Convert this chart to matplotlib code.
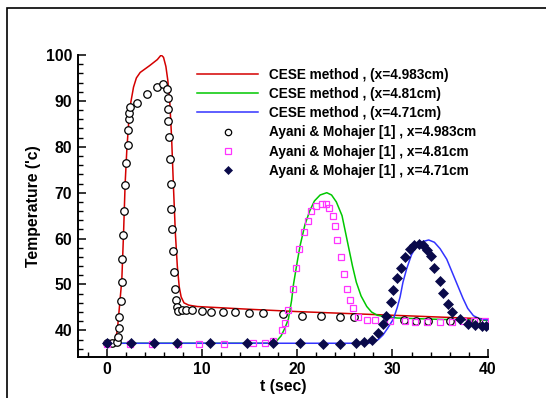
import matplotlib
matplotlib.use("Agg")
import matplotlib.pyplot as plt
from matplotlib.ticker import MultipleLocator
from matplotlib.patches import Rectangle

# ---- data ----
red_t = [0, 0.6, 0.9, 1.1, 1.25, 1.4, 1.57, 1.75, 1.92, 2.1, 2.3, 2.5, 2.8, 3.1, 3.5, 4.5,
         5.3, 5.7, 5.95, 6.2, 6.4, 6.6, 6.8, 7.0, 7.2, 7.4, 7.6, 7.8, 8.1, 8.6, 9.5,
         15, 20, 25, 30, 35, 40]
red_T = [37.2, 37.3, 38.0, 40.0, 43.5, 47.0, 51.0, 61.0, 72.0, 79.5, 85.5, 89.5, 93.0, 95.0,
         96.2, 97.7, 99.0, 100.0, 99.5, 97.5, 94.5, 90.0, 82.0, 71.0, 61.0, 54.0, 49.5, 47.3,
         46.0, 45.5, 45.2, 44.6, 44.1, 43.7, 43.3, 42.9, 42.5]

green_t = [0, 17.3, 17.8, 18.3, 18.7, 19.07, 19.4, 19.6, 20.0, 20.3, 20.8, 21.3, 21.8, 22.4,
           23.1, 23.6, 24.1, 24.7, 25.1, 25.4, 25.8, 26.2, 26.7, 27.3, 27.8, 28.4, 29.2,
           30.5, 35, 40]
green_T = [37.2, 37.2, 37.6, 38.8, 40.5, 42.5, 46.5, 50.0, 55.0, 58.5, 63.0, 66.0, 68.2, 69.5,
           70.0, 69.5, 68.0, 65.0, 61.0, 58.0, 54.0, 50.5, 47.5, 45.2, 44.0, 43.3, 43.0,
           42.7, 42.4, 42.2]

blue_t = [0, 27.0, 27.8, 28.5, 29.0, 29.5, 30.1, 30.5, 30.8, 31.1, 31.5, 32.0, 32.5, 33.1,
          33.8, 34.4, 35.0, 35.7, 36.2, 36.7, 37.1, 37.4, 37.9, 38.5, 39.2, 40]
blue_T = [37.2, 37.2, 37.3, 38.0, 39.0, 40.5, 42.5, 45.0, 47.3, 50.5, 53.5, 56.5, 58.3, 59.3,
          59.7, 59.2, 57.8, 55.5, 53.0, 50.5, 48.5, 47.0, 44.8, 43.2, 42.5, 42.3]

circ_t = [0.05, 0.5, 1.08, 1.2, 1.3, 1.3, 1.45, 1.56, 1.63, 1.67, 1.85, 1.92, 1.96, 2.2, 2.21,
          2.29, 2.36, 2.44, 3.16, 4.26, 5.28, 5.9, 6.27, 6.38, 6.38, 6.45, 6.53, 6.64, 6.71,
          6.78, 6.89, 6.96, 7.04, 7.15, 7.22, 7.4, 7.47, 7.87, 8.35, 8.9, 10.0, 10.9, 12.2,
          13.5, 14.9, 16.4, 18.5, 20.5, 22.5, 24.5, 26.0, 31.2, 32.5, 33.7, 36.0, 38.8]
circ_T = [37.2, 37.2, 37.4, 38.5, 40.5, 43.0, 46.4, 50.6, 55.5, 60.7, 66.0, 71.6, 76.4, 80.5,
          83.7, 86.0, 87.4, 88.6, 89.5, 91.4, 93.0, 93.7, 92.7, 90.7, 88.2, 85.6, 82.2, 77.3,
          72.0, 66.4, 62.2, 57.4, 52.7, 49.0, 46.6, 45.0, 44.2, 44.5, 44.4, 44.4, 44.2, 44.0,
          44.1, 44.0, 43.8, 43.7, 43.5, 43.2, 43.2, 43.0, 42.9, 42.3, 42.1, 42.1, 42.0, 42.0]

sq_t = [0.05, 2.4, 4.7, 7.5, 9.7, 12.3, 15.3, 16.6, 17.5, 18.4, 18.7, 19.0, 19.5, 19.9, 20.2,
        20.7, 21.1, 21.4, 22.0, 22.6, 23.0, 23.3, 23.7, 24.0, 24.2, 24.6, 24.9, 25.2, 25.5,
        25.9, 26.4, 27.3, 28.2, 29.7, 31.3, 32.4, 33.6, 35.0, 36.3, 37.4, 38.6, 39.7]
sq_T = [37.0, 37.0, 37.0, 37.0, 37.0, 37.0, 37.2, 37.2, 37.6, 40.1, 41.7, 44.4, 49.0, 53.7,
        57.8, 61.5, 63.8, 66.0, 67.1, 67.5, 67.6, 66.6, 65.0, 62.7, 59.8, 56.1, 52.3, 49.0,
        46.6, 44.9, 42.9, 42.2, 42.2, 42.0, 42.0, 41.8, 41.8, 41.8, 41.8, 42.1, 42.0, 42.0]

dia_t = [0.05, 2.5, 5.0, 7.4, 10.8, 14.7, 17.5, 20.3, 22.7, 24.5, 26.2, 27.0, 27.9, 28.5,
         29.0, 29.3, 29.8, 30.1, 30.5, 30.9, 31.3, 31.8, 32.3, 32.8, 33.2, 33.6, 34.0, 34.4,
         35.0, 35.3, 35.8, 36.3, 37.1, 37.9, 38.7, 39.4, 39.8]
dia_T = [37.2, 37.2, 37.2, 37.2, 37.2, 37.2, 37.2, 37.2, 37.0, 37.0, 37.2, 37.4, 38.0, 39.4,
         41.3, 43.2, 46.2, 48.8, 51.4, 53.7, 55.9, 57.7, 58.5, 58.8, 58.5, 57.5, 56.3, 53.7,
         50.8, 48.1, 45.8, 43.9, 42.5, 41.5, 41.2, 41.0, 41.0]

labels = ["CESE method , (x=4.983cm)", "CESE method , (x=4.81cm)", "CESE method , (x=4.71cm)",
          "Ayani & Mohajer [1] , x=4.983cm", "Ayani & Mohajer [1] , x=4.81cm",
          "Ayani & Mohajer [1] , x=4.71cm"]
xticks = [0, 10, 20, 30, 40]
yticks = [40, 50, 60, 70, 80, 90, 100]

plt.rcParams['font.family'] = ['Liberation Sans', 'DejaVu Sans']
plt.rcParams['font.weight'] = 'bold'

W, H = 546, 398
fig = plt.figure(figsize=(W / 100, H / 100), dpi=100)
ax = fig.add_axes([78.3 / W, 1 - 356.7 / H, (487.7 - 78.3) / W, (356.7 - 55) / H])

l1, = ax.plot(red_t, red_T, color='#d40000', lw=1.1, zorder=2)
l2, = ax.plot(green_t, green_T, color='#00c800', lw=1.1, zorder=2)
l3, = ax.plot(blue_t, blue_T, color='#3333ff', lw=1.1, zorder=2.1)
m1, = ax.plot(circ_t, circ_T, ls='none', marker='o', ms=5.4, mfc='white', mec='black', mew=0.9, zorder=3)
m2, = ax.plot(sq_t, sq_T, ls='none', marker='s', ms=4.8, mfc='none', mec='#ff33ff', mew=0.9, zorder=3)
m3, = ax.plot(dia_t, dia_T, ls='none', marker='D', ms=4.8, mfc='#0a0a4a', mec='#0a0a4a', mew=0.5, zorder=3)

ax.set_xlim(-3, 40)
ax.set_ylim(34.27, 100)
ax.set_xticks(xticks)
ax.set_yticks(yticks)
ax.xaxis.set_minor_locator(MultipleLocator(2))
ax.yaxis.set_minor_locator(MultipleLocator(2))
for s in ['top', 'right']:
    ax.spines[s].set_visible(False)
for s in ['left', 'bottom']:
    ax.spines[s].set_linewidth(1.4)
ax.tick_params(which='major', direction='in', length=6, width=1.1, labelsize=11.3, pad=4.5)
ax.tick_params(which='minor', direction='in', length=3.5, width=1.0)
ax.tick_params(axis='x', which='major', pad=3.5)
for lab in ax.get_xticklabels() + ax.get_yticklabels():
    lab.set_fontweight('bold')

ax.set_xlabel('t (sec)', fontsize=11.3, fontweight='bold', labelpad=1.5)
ax.set_ylabel("Temperature ('c)", fontsize=11.3, fontweight='bold', labelpad=3.5)

leg = fig.legend([l1, l2, l3, m1, m2, m3], labels, loc='upper left',
                 bbox_to_anchor=(197 / W, 1 - 67.5 / H), frameon=False,
                 prop={'size': 9.8, 'weight': 'bold'}, handlelength=4.49,
                 handletextpad=0.81, labelspacing=0.39, borderpad=0, borderaxespad=0,
                 markerscale=0.85)

fig.add_artist(Rectangle((7 / W, -0.1), 2, 1.1 - 8 / H, transform=fig.transFigure,
                         fill=False, lw=1.2, edgecolor='black'))

fig.savefig('out.png', dpi=100)
